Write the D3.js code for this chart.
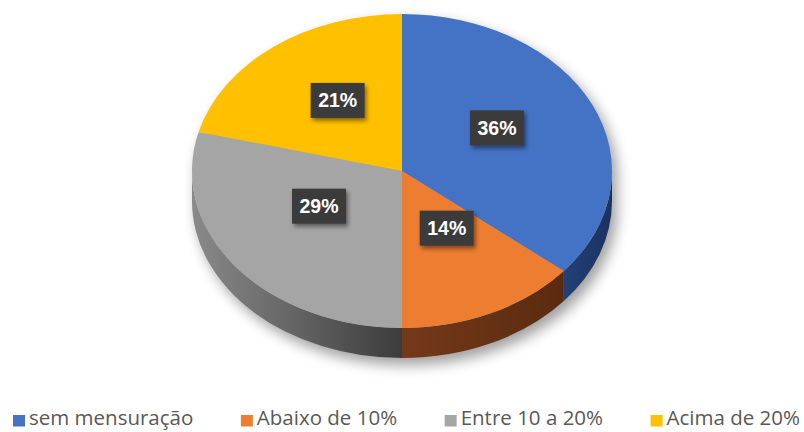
<!DOCTYPE html>
<html>
<head>
<meta charset="utf-8">
<script src="https://cdn.jsdelivr.net/npm/d3@7"></script>
<style>
  html, body { margin: 0; padding: 0; background: #fff; }
  svg { display: block; }
</style>
</head>
<body>
<div class="charts-div"></div>
<script>
// chart data
const categories = ["sem mensuração", "Abaixo de 10%", "Entre 10 a 20%", "Acima de 20%"];
const values = [36, 14, 29, 21];
const labels = ["36%", "14%", "29%", "21%"];

const topColors = ["#4472c4", "#ed7d31", "#a5a5a5", "#ffc000"];
const sideColors = [["#2a4a86", "#1b3260"], ["#74391a", "#5a2a0e"], ["#8a8a8a", "#3c3c3c"], ["#a07800", "#7a5c00"]];

const width = 804, height = 432;
const cx = 402, cy = 171, rx = 210, ry = 157, depth = 30;

const svg = d3.select(".charts-div").append("svg")
    .attr("width", width).attr("height", height);

const defs = svg.append("defs");

// soft shadow of the pie body
defs.append("filter").attr("id", "pieShadow")
    .attr("x", "-20%").attr("y", "-20%").attr("width", "140%").attr("height", "140%")
    .append("feGaussianBlur").attr("stdDeviation", 7);

// shadow under the label boxes
const lblShadow = defs.append("filter").attr("id", "lblShadow")
    .attr("x", "-30%").attr("y", "-30%").attr("width", "160%").attr("height", "160%");
lblShadow.append("feDropShadow").attr("dx", 2).attr("dy", 3).attr("stdDeviation", 2)
    .attr("flood-color", "#000").attr("flood-opacity", 0.45);

sideColors.forEach((c, i) => {
    const g = defs.append("linearGradient").attr("id", "side" + i)
        .attr("gradientUnits", "userSpaceOnUse")
        .attr("y1", 0).attr("y2", 0);
    if (i === 2) {
        g.attr("x1", cx - rx).attr("x2", cx);
    } else if (i === 1) {
        g.attr("x1", cx).attr("x2", cx + rx * 0.8);
    } else {
        g.attr("x1", cx + rx * 0.6).attr("x2", cx + rx);
    }
    g.append("stop").attr("offset", "0%").attr("stop-color", c[0]);
    g.append("stop").attr("offset", "100%").attr("stop-color", c[1]);
});

const pt = (a, dy = 0) => [cx + rx * Math.sin(a), cy - ry * Math.cos(a) + dy];

const arcs = d3.pie().sort(null).startAngle(0).endAngle(2 * Math.PI)(values);

// body shadow
svg.append("path")
    .attr("d", () => {
        const l = pt(-Math.PI / 2), r = pt(Math.PI / 2);
        return `M${l[0]},${l[1]} A${rx},${ry} 0 1 1 ${r[0]},${r[1]} L${r[0]},${r[1] + depth} A${rx},${ry} 0 1 1 ${l[0]},${l[1] + depth} Z`;
    })
    .attr("transform", "translate(5,7)")
    .attr("fill", "#000").attr("opacity", 0.38)
    .attr("filter", "url(#pieShadow)");

// sides (front half only)
const sides = svg.append("g");
arcs.forEach((d, i) => {
    const c0 = Math.max(d.startAngle, Math.PI / 2);
    const c1 = Math.min(d.endAngle, 3 * Math.PI / 2);
    if (c1 <= c0) return;
    const p0 = pt(c0), p1 = pt(c1), q0 = pt(c0, depth), q1 = pt(c1, depth);
    sides.append("path")
        .attr("d", `M${p0[0]},${p0[1]} A${rx},${ry} 0 0 1 ${p1[0]},${p1[1]} L${q1[0]},${q1[1]} A${rx},${ry} 0 0 0 ${q0[0]},${q0[1]} Z`)
        .attr("fill", `url(#side${i})`);
});

// top faces
const tops = svg.append("g");
arcs.forEach((d, i) => {
    const p0 = pt(d.startAngle), p1 = pt(d.endAngle);
    const large = d.endAngle - d.startAngle > Math.PI ? 1 : 0;
    tops.append("path")
        .attr("d", `M${cx},${cy} L${p0[0]},${p0[1]} A${rx},${ry} 0 ${large} 1 ${p1[0]},${p1[1]} Z`)
        .attr("fill", topColors[i]);
});

// data labels
const lbl = svg.append("g");
arcs.forEach((d, i) => {
    const mid = (d.startAngle + d.endAngle) / 2;
    const x = cx + rx * 0.5 * Math.sin(mid);
    const y = cy - ry * 0.48 * Math.cos(mid) - 11;
    const bw = 54, bh = 35;
    lbl.append("rect")
        .attr("x", x - bw / 2).attr("y", y - bh / 2)
        .attr("width", bw).attr("height", bh)
        .attr("fill", "#3b3b3b")
        .attr("filter", "url(#lblShadow)");
    lbl.append("text")
        .attr("x", x).attr("y", y)
        .attr("text-anchor", "middle").attr("dy", "0.36em")
        .attr("font-family", "Liberation Sans, Arial, sans-serif")
        .attr("font-weight", "bold").attr("font-size", 19.5)
        .attr("fill", "#fff")
        .text(labels[i]);
});

// legend: spread items from x=13 to x=800
const legend = svg.append("g").attr("transform", "translate(0,425)");
const items = categories.map((c, i) => {
    const item = legend.append("g");
    item.append("rect").attr("x", 0).attr("y", -10).attr("width", 12).attr("height", 11.5)
        .attr("fill", topColors[i]);
    const t = item.append("text").attr("x", 16).attr("y", 0)
        .attr("font-family", "Open Sans, sans-serif").attr("font-size", 20.5)
        .attr("fill", "#595959").text(c);
    return { item, w: 16 + t.node().getComputedTextLength() };
});
const legendStart = 13, legendEnd = 800;
const gap = (legendEnd - legendStart - d3.sum(items, d => d.w)) / (items.length - 1);
let lx = legendStart;
items.forEach(d => {
    d.item.attr("transform", `translate(${lx},0)`);
    lx += d.w + gap;
});
</script>
</body>
</html>
